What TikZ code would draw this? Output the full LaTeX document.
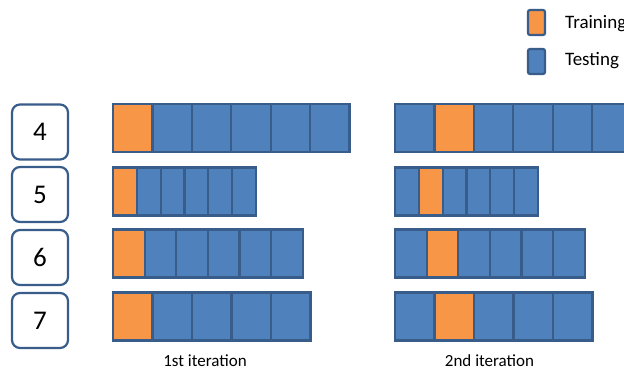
\documentclass[tikz,border=0pt]{standalone}
\usepackage{fontspec}
\setmainfont{Carlito}
\definecolor{tblue}{HTML}{4F81BD}
\definecolor{torange}{HTML}{F79646}
\definecolor{tborder}{HTML}{385D8A}
\begin{document}
\begin{tikzpicture}[x=1pt,y=-1pt,
  cell/.style={draw=tborder, line width=2.2pt, inner sep=0pt, outer sep=0pt, minimum height=48pt},
  numbox/.style={draw=tborder, line width=2.2pt, rounded corners=8pt, fill=white, minimum width=56pt, minimum height=55pt, inner sep=0pt, font=\fontsize{27}{30}\selectfont},
  legbox/.style={draw=tborder, line width=2.2pt, rounded corners=2pt, minimum width=17pt, minimum height=25pt, inner sep=0pt},
  legtext/.style={anchor=west, inner sep=0pt, font=\fontsize{19}{22}\selectfont},
  itlabel/.style={inner sep=0pt, font=\fontsize{17}{20}\selectfont}]
\useasboundingbox (0,0) rectangle (624,370);
\clip (0,0) rectangle (624,370);
\fill[white] (0,0) rectangle (624,370);
% number boxes
\node[numbox] (n4) at (40,132) {4};
\node[numbox] (n5) at (40,194.5) {5};
\node[numbox] (n6) at (40,257.5) {6};
\node[numbox] (n7) at (40,320.5) {7};
% bars
\foreach \r/\yc/\w/\n in {4/128/39.4/6, 5/191.5/23.8/6, 6/253.5/31.6/6, 7/316.5/39.5/5} {
  \foreach \i in {1,...,\n} {
    \pgfmathsetmacro\xa{113+(\i-0.5)*\w}
    \pgfmathsetmacro\xb{395+(\i-0.5)*\w}
    \ifnum\i=1 \def\fa{torange}\else\def\fa{tblue}\fi
    \ifnum\i=2 \def\fb{torange}\else\def\fb{tblue}\fi
    \node[cell, minimum width=\w pt, fill=\fa] (a\r-\i) at (\xa,\yc) {};
    \node[cell, minimum width=\w pt, fill=\fb] (b\r-\i) at (\xb,\yc) {};
  }
}
% labels
\node[itlabel] (it1) at (205,360.5) {1st iteration};
\node[itlabel] (it2) at (489.5,360.5) {2nd iteration};
% legend
\node[legbox, fill=torange] (ltr) at (536.5,22.5) {};
\node[legbox, fill=tblue] (lte) at (536.5,61.5) {};
\node[legtext] (ttr) at (565,24) {Training};
\node[legtext] (tte) at (565,61) {Testing};
\end{tikzpicture}
\end{document}
